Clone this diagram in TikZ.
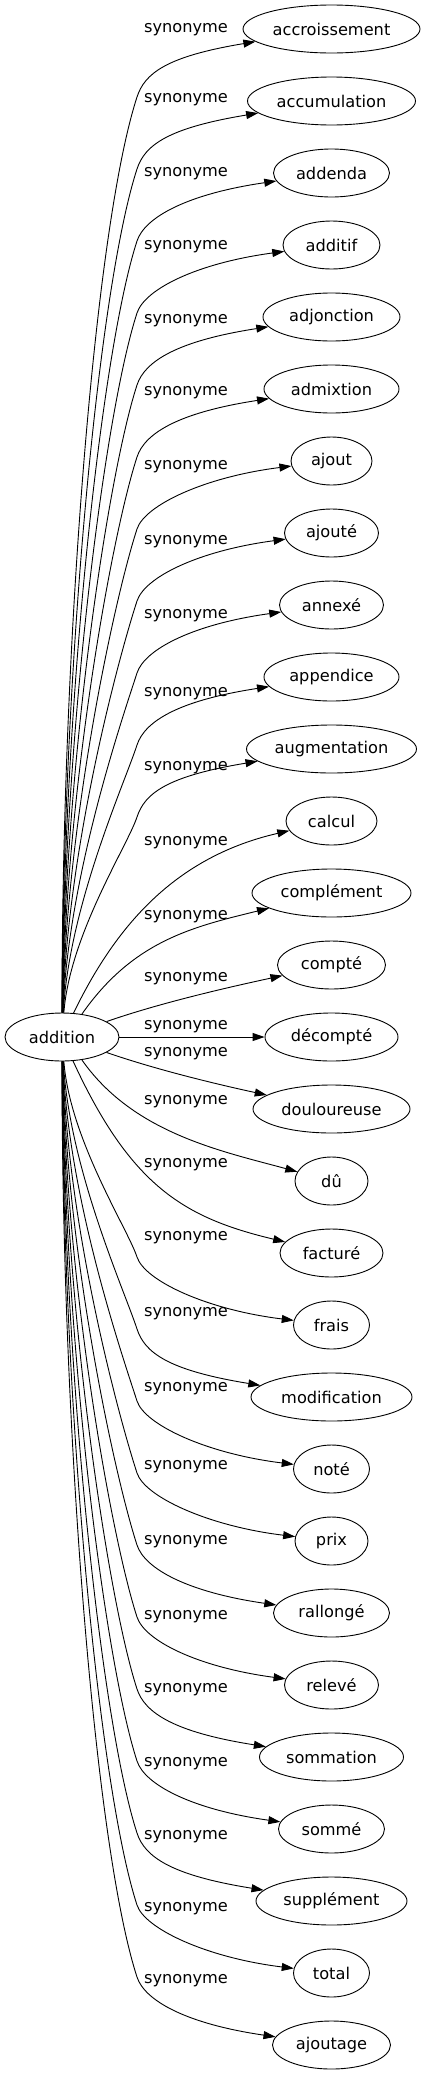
\documentclass[tikz,border=0pt]{standalone}
\usepackage{fontspec}
\setmainfont{DejaVu Sans}
\usetikzlibrary{shapes.geometric,arrows.meta,calc}
\begin{document}
\begin{tikzpicture}[x=1pt,y=1pt,
  term/.style={draw, ellipse, line width=0.9pt, minimum height=48pt, inner sep=0pt, font=\fontsize{16.2}{19}\selectfont},
  lbl/.style={font=\fontsize{16.2}{19}\selectfont, inner sep=0pt},
  edge/.style={line width=0.9pt, -{Triangle[length=12pt,width=8pt]}}]
\useasboundingbox (0,0) rectangle (425,-2075);
\node[term, minimum width=114pt] (addition) at (62,-1037) {addition};
\foreach \name/\w/\ly [count=\i from 0] in {accroissement/177/30,accumulation/168/100,addenda/116/174,additif/97/247,adjonction/137/321,admixtion/135/393,ajout/81/467,ajouté/94/542,annexé/104/616,appendice/135/694,augmentation/170/768,calcul/91/843,complément/159/917,compté/108/979,décompté/133/1027,douloureuse/157/1054,dû/73/1102,facturé/103/1165,frais/76/1238,modification/161/1314,noté/76/1389,prix/73/1467,rallongé/116/1542,relevé/94/1617,sommation/144/1690,sommé/106/1764,supplément/151/1837,total/76/1909,ajoutage/118/1981}{
  \pgfmathsetmacro\yt{29+72*\i}
  \node[term, minimum width=\w pt] (n\i) at (331.5,-\yt) {\name};
  \node[lbl] (l\i) at (186,-\ly) {synonyme};
  \ifnum\i<11
    \def\gen{1}
  \else\ifnum\i>17
    \def\gen{1}
  \else
    \def\gen{0}
  \fi\fi
  \if1\gen
    \pgfmathsetmacro\s{\i<14 ? 1 : -1}
    \pgfmathsetmacro\xL{331.5-\w/2}
    \pgfmathsetmacro\yB{\yt+68*\s}
    \pgfmathsetmacro\ye{1037-24*\s}
    \pgfmathsetmacro\D{\s*(\ye-\yB)}
    \pgfmathsetmacro\xone{62+10*(1-\D/900)}
    \pgfmathsetmacro\yone{-(\ye-0.4*\D*\s)}
    \pgfmathsetmacro\L{min(140,0.15*\D)}
    \pgfmathsetmacro\xtwo{137-0.309*\L}
    \pgfmathsetmacro\ytwo{-(\yB+0.951*\L*\s)}
    \pgfmathsetmacro\xthree{137+0.309*25}
    \pgfmathsetmacro\ythree{-(\yB-0.951*25*\s)}
    \pgfmathsetmacro\Lfour{min(90,0.75*(\xL+3-137))}
    \pgfmathsetmacro\th{max(3,5+(\w-80)*0.09)}
    \pgfmathsetmacro\xfour{\xL+3-cos(\th)*\Lfour}
    \pgfmathsetmacro\yfour{-(\yt+8*\s+sin(\th)*\Lfour*\s)}
    \pgfmathsetmacro\yBn{-\yB}
    \coordinate (b\i) at (137,\yBn);
    \draw[edge] (addition) .. controls (\xone,\yone) and (\xtwo,\ytwo) .. (b\i) .. controls (\xthree,\ythree) and (\xfour,\yfour) .. (n\i);
  \fi
}
\draw[edge] (addition) .. controls (118,-921) and (179,-856) .. (n11);
\draw[edge] (addition.49) .. controls (133,-941) and (192,-927) .. (n12);
\draw[edge] (addition) .. controls (160,-1003) and (225,-988) .. (n13);
\draw[edge] (addition) -- (n14);
\draw[edge] (addition) .. controls (160,-1071) and (225,-1086) .. (n15);
\draw[edge] (addition.-49) .. controls (133,-1133) and (221,-1151) .. (n16);
\draw[edge] (addition) .. controls (131,-1187) and (185,-1218) .. (n17);
\end{tikzpicture}
\end{document}
